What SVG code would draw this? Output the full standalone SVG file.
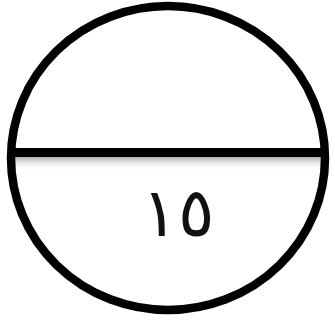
<svg xmlns="http://www.w3.org/2000/svg" width="335" height="327" viewBox="0 0 335 327">
<style>
.ring{fill:none;stroke:#000;stroke-width:8.5}
.bar{stroke:#000;stroke-width:9}
.num{font-family:"DejaVu Sans","Noto Sans",sans-serif;font-size:68px;fill:#111;text-anchor:middle}
</style>
<defs>
<linearGradient id="sh" x1="0" y1="0" x2="0" y2="1">
<stop offset="0" stop-color="#9a9a9a"/>
<stop offset="1" stop-color="#ffffff" stop-opacity="0"/>
</linearGradient>
<clipPath id="cp"><ellipse cx="168" cy="158" rx="157" ry="152"/></clipPath>
</defs>
<rect width="335" height="327" fill="#fff"/>
<g id="shadow"><rect x="0" y="155" width="335" height="16" fill="url(#sh)" clip-path="url(#cp)"/></g>
<g id="circle"><ellipse class="ring" cx="168" cy="158" rx="157" ry="152"/></g>
<g id="divider"><line class="bar" x1="12" y1="152.5" x2="324" y2="152.5"/></g>
<g id="label"><text class="num" x="178" y="236">١٥</text></g>
</svg>
